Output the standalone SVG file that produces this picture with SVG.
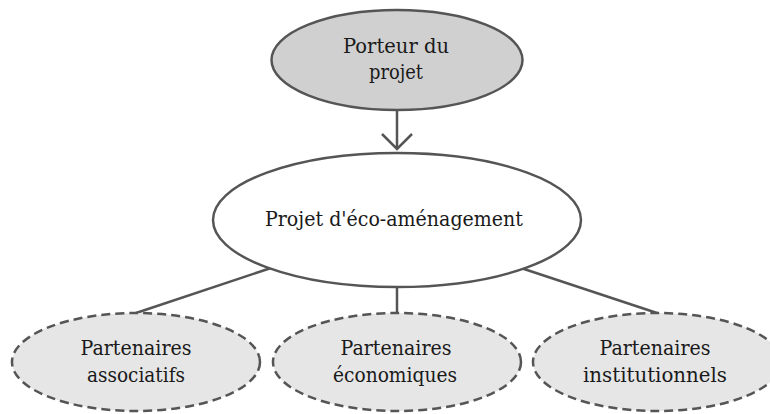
<svg xmlns="http://www.w3.org/2000/svg" width="770" height="414" viewBox="0 0 770 414">
<style>
.n{stroke:#555;stroke-width:2.5}
.top{fill:#d0d0d0}
.mid{fill:#fff}
.p{fill:#e6e6e6;stroke-dasharray:9 5}
.t{font-size:20.5px;fill:#1a1a1a;text-anchor:middle}
.c{stroke:#555;stroke-width:2.5;fill:none}
</style>
<rect width="770" height="414" fill="#fff"/>
<g id="connectors">
<line class="c" x1="397" y1="110" x2="397" y2="149"/>
<polyline class="c" points="382,134 397,149 412,134"/>
<line class="c" x1="271" y1="268" x2="136" y2="313"/>
<line class="c" x1="397" y1="287" x2="397" y2="313"/>
<line class="c" x1="521" y1="268" x2="657" y2="313"/>
</g>
<g font-family="'DejaVu Serif', 'Liberation Serif', serif">
<g id="porteur">
<ellipse class="n top" cx="397" cy="60" rx="125.5" ry="50"/>
<text class="t" x="396" y="53" textLength="106" lengthAdjust="spacingAndGlyphs">Porteur du</text>
<text class="t" x="396" y="79" textLength="54" lengthAdjust="spacingAndGlyphs">projet</text>
</g>
<g id="projet">
<ellipse class="n mid" cx="397" cy="220" rx="184" ry="67"/>
<text class="t" x="394" y="226" textLength="258" lengthAdjust="spacingAndGlyphs">Projet d'éco-aménagement</text>
</g>
<g id="associatifs">
<ellipse class="n p" cx="136" cy="362" rx="124" ry="49"/>
<text class="t" x="136" y="355" textLength="111" lengthAdjust="spacingAndGlyphs">Partenaires</text>
<text class="t" x="136" y="382" textLength="98" lengthAdjust="spacingAndGlyphs">associatifs</text>
</g>
<g id="economiques">
<ellipse class="n p" cx="397" cy="362" rx="124" ry="49"/>
<text class="t" x="396" y="355" textLength="111" lengthAdjust="spacingAndGlyphs">Partenaires</text>
<text class="t" x="395" y="382" textLength="124" lengthAdjust="spacingAndGlyphs">économiques</text>
</g>
<g id="institutionnels">
<ellipse class="n p" cx="657" cy="362" rx="124" ry="49"/>
<text class="t" x="655" y="355" textLength="111" lengthAdjust="spacingAndGlyphs">Partenaires</text>
<text class="t" x="655" y="382" textLength="144" lengthAdjust="spacingAndGlyphs">institutionnels</text>
</g>
</g>
</svg>
